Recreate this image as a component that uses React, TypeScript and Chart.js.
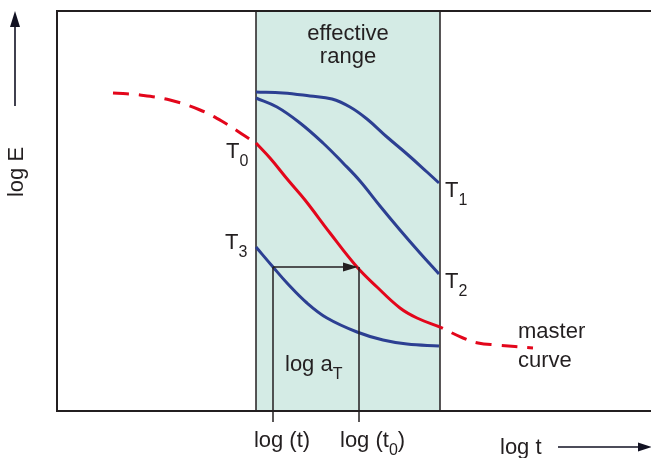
import React, { useEffect, useRef } from "react";
import { Chart, registerables } from "chart.js";

Chart.register(...registerables);

// ---- Data (x = log t, y = log E, arbitrary schematic units) ----
const MASTER_T = [56, 83, 113, 143, 168, 188, 199, 213, 231, 248, 273, 300, 320, 343, 360, 383, 406, 421, 440, 476];
const MASTER_E = [318, 316, 311, 301, 288, 275, 268, 253, 231, 211, 178, 144, 124, 103, 93, 84, 73, 68, 66, 63];

const T1_T = [199, 226, 253, 275, 293, 310, 330, 350, 370, 382];
const T1_E = [319, 318, 315, 312, 304, 292, 274, 257, 239, 228];

const T2_T = [199, 220, 243, 266, 286, 303, 323, 343, 363, 382];
const T2_E = [313, 304, 288, 268, 248, 230, 205, 181, 158, 137];

const T3_T = [199, 216, 230, 250, 270, 300, 326, 350, 382];
const T3_E = [164, 144, 128, 108, 93, 79, 71, 67, 65];

const RANGE_START = 199;
const RANGE_END = 383;
const LOG_T = 216;
const LOG_T0 = 302;
const SHIFT_E = 144;

const X_MAX = 594;
const Y_MAX = 400;

const RED = "#e3061b";
const BLUE = "#2c3f92";
const INK = "#231f20";
const SHADE = "#d4ebe5";
const FONT = "Liberation Sans, Arial, sans-serif";

function pts(xs: number[], ys: number[]) {
  return xs.map((x, i) => ({ x, y: ys[i] }));
}

function drawParts(
  ctx: CanvasRenderingContext2D,
  x: number,
  y: number,
  parts: [string, boolean][],
  align: "left" | "center",
  size = 22,
  subSize = 16,
  subDrop = 8
) {
  const widths = parts.map(([t, sub]) => {
    ctx.font = `${sub ? subSize : size}px ${FONT}`;
    return ctx.measureText(t).width;
  });
  const total = widths.reduce((a, b) => a + b, 0);
  let cx = align === "center" ? x - total / 2 : x;
  ctx.textAlign = "left";
  ctx.textBaseline = "alphabetic";
  parts.forEach(([t, sub], i) => {
    ctx.font = `${sub ? subSize : size}px ${FONT}`;
    ctx.fillText(t, cx, sub ? y + subDrop : y);
    cx += widths[i];
  });
}

const decorPlugin = {
  id: "decor",
  beforeDatasetsDraw(chart: any) {
    const { ctx, chartArea } = chart;
    const sx = chart.scales.x;
    const x0 = sx.getPixelForValue(RANGE_START);
    const x1 = sx.getPixelForValue(RANGE_END);
    ctx.save();
    ctx.fillStyle = SHADE;
    ctx.fillRect(x0, chartArea.top, x1 - x0, chartArea.bottom - chartArea.top);
    ctx.strokeStyle = INK;
    ctx.lineWidth = 1.5;
    ctx.beginPath();
    ctx.moveTo(x0, chartArea.top);
    ctx.lineTo(x0, chartArea.bottom);
    ctx.moveTo(x1, chartArea.top);
    ctx.lineTo(x1, chartArea.bottom);
    ctx.stroke();
    // frame: left, top, bottom
    ctx.lineWidth = 2;
    ctx.beginPath();
    ctx.moveTo(chartArea.right + 2, chartArea.top);
    ctx.lineTo(chartArea.left, chartArea.top);
    ctx.lineTo(chartArea.left, chartArea.bottom);
    ctx.lineTo(chartArea.right + 2, chartArea.bottom);
    ctx.stroke();
    ctx.restore();
  },
  afterDatasetsDraw(chart: any) {
    const { ctx, chartArea } = chart;
    const sx = chart.scales.x;
    const sy = chart.scales.y;
    const xt = sx.getPixelForValue(LOG_T);
    const xt0 = sx.getPixelForValue(LOG_T0);
    const ya = sy.getPixelForValue(SHIFT_E);
    ctx.save();
    ctx.strokeStyle = INK;
    ctx.fillStyle = INK;
    ctx.lineWidth = 1.5;
    // vertical markers
    ctx.beginPath();
    ctx.moveTo(xt, ya);
    ctx.lineTo(xt, chartArea.bottom + 11);
    ctx.moveTo(xt0, ya);
    ctx.lineTo(xt0, chartArea.bottom + 11);
    // horizontal shift arrow
    ctx.moveTo(xt, ya);
    ctx.lineTo(xt0 - 12, ya);
    ctx.stroke();
    ctx.beginPath();
    ctx.moveTo(xt0 - 1, ya);
    ctx.lineTo(xt0 - 16, ya - 4.5);
    ctx.lineTo(xt0 - 16, ya + 4.5);
    ctx.closePath();
    ctx.fill();

    // y axis arrow
    ctx.strokeStyle = "#111122";
    ctx.fillStyle = "#111122";
    ctx.lineWidth = 1.6;
    ctx.beginPath();
    ctx.moveTo(15, 106);
    ctx.lineTo(15, 24);
    ctx.stroke();
    ctx.beginPath();
    ctx.moveTo(15, 11);
    ctx.lineTo(10, 27);
    ctx.lineTo(20, 27);
    ctx.closePath();
    ctx.fill();
    // x axis arrow
    ctx.beginPath();
    ctx.moveTo(558, 447);
    ctx.lineTo(640, 447);
    ctx.stroke();
    ctx.beginPath();
    ctx.moveTo(652, 447);
    ctx.lineTo(638, 442.5);
    ctx.lineTo(638, 451.5);
    ctx.closePath();
    ctx.fill();

    // texts
    ctx.fillStyle = INK;
    const cx = (sx.getPixelForValue(RANGE_START) + sx.getPixelForValue(RANGE_END)) / 2;
    drawParts(ctx, cx, 40, [["effective", false]], "center");
    drawParts(ctx, cx, 63, [["range", false]], "center");

    drawParts(ctx, 226, 158, [["T", false], ["0", true]], "left");
    drawParts(ctx, 445, 197, [["T", false], ["1", true]], "left");
    drawParts(ctx, 445, 288, [["T", false], ["2", true]], "left");
    drawParts(ctx, 225, 249, [["T", false], ["3", true]], "left");

    drawParts(ctx, 285, 371, [["log a", false], ["T", true]], "left");
    drawParts(ctx, 518, 338, [["master", false]], "left");
    drawParts(ctx, 518, 367, [["curve", false]], "left");

    drawParts(ctx, xt + 9, 447, [["log (t)", false]], "center");
    drawParts(ctx, 340, 447, [["log (t", false], ["0", true], [")", false]], "left");
    drawParts(ctx, 500, 454, [["log t", false]], "left");

    // rotated y title
    ctx.save();
    ctx.translate(23, 172);
    ctx.rotate(-Math.PI / 2);
    drawParts(ctx, 0, 0, [["log E", false]], "center");
    ctx.restore();

    ctx.restore();
  },
};

export default function App() {
  const ref = useRef<HTMLCanvasElement | null>(null);

  useEffect(() => {
    document.body.style.margin = "0";
    const canvas = ref.current;
    if (!canvas) return;

    const master = pts(MASTER_T, MASTER_E);
    const left = master.filter((p) => p.x <= RANGE_START);
    const mid = master.filter((p) => p.x >= RANGE_START && p.x <= RANGE_END + 1);
    const right = master.filter((p) => p.x >= RANGE_END);

    const base = {
      pointRadius: 0,
      borderWidth: 3,
      fill: false,
      tension: 0.4,
      borderCapStyle: "butt" as const,
    };

    const chart = new Chart(canvas, {
      type: "line",
      data: {
        datasets: [
          { ...base, data: left, borderColor: RED, borderDash: [16, 10] },
          { ...base, data: mid, borderColor: RED },
          { ...base, data: right, borderColor: RED, borderDash: [16, 10], borderDashOffset: 13 },
          { ...base, data: pts(T1_T, T1_E), borderColor: BLUE },
          { ...base, data: pts(T2_T, T2_E), borderColor: BLUE },
          { ...base, data: pts(T3_T, T3_E), borderColor: BLUE },
        ],
      },
      options: {
        responsive: false,
        maintainAspectRatio: false,
        animation: false,
        layout: { padding: { left: 57, top: 11, right: 0, bottom: 47 } },
        scales: {
          x: { type: "linear", min: 0, max: X_MAX, display: false },
          y: { type: "linear", min: 0, max: Y_MAX, display: false },
        },
        plugins: {
          legend: { display: false },
          tooltip: { enabled: false },
        },
      },
      plugins: [decorPlugin],
    });
    return () => chart.destroy();
  }, []);

  return (
    <div style={{ width: 651, height: 458 }}>
      <canvas ref={ref} width={651} height={458} style={{ display: "block" }} />
    </div>
  );
}
